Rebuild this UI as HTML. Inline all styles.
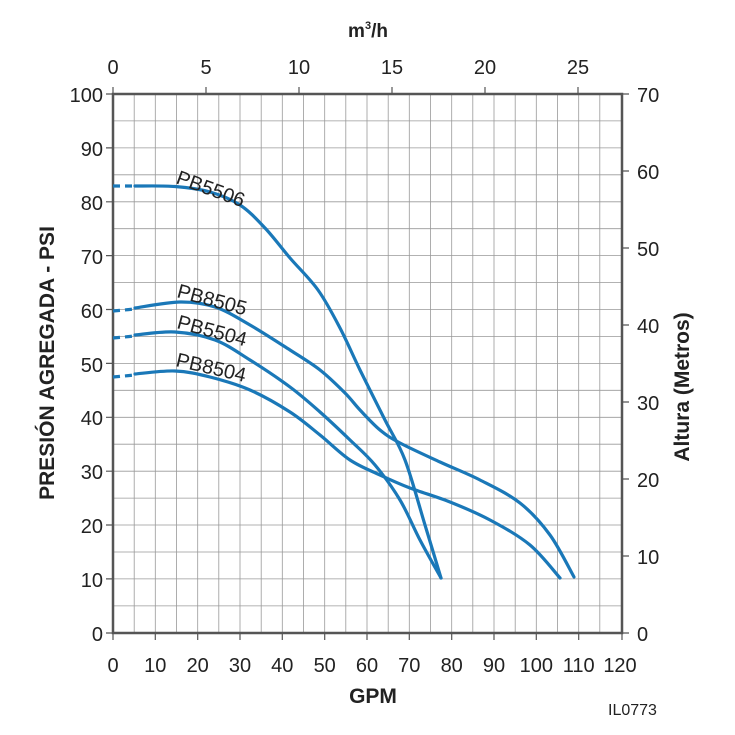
<!DOCTYPE html>
<html><head><meta charset="utf-8"><style>
html,body{margin:0;padding:0;background:#fff;}
svg{display:block;font-family:"Liberation Sans",sans-serif;}
</style></head><body>
<svg width="735" height="735" viewBox="0 0 735 735">
<g stroke="#999" stroke-width="0.8">
<path d="M134.2 94V633M155.3 94V633M176.5 94V633M197.7 94V633M218.8 94V633M240 94V633M261.2 94V633M282.3 94V633M303.5 94V633M324.7 94V633M345.8 94V633M367 94V633M388.2 94V633M409.3 94V633M430.5 94V633M451.7 94V633M472.8 94V633M494 94V633M515.2 94V633M536.3 94V633M557.5 94V633M578.7 94V633M599.8 94V633"/>
<path d="M113 120.9H622M113 147.9H622M113 174.8H622M113 201.8H622M113 228.7H622M113 255.6H622M113 282.6H622M113 309.5H622M113 336.5H622M113 363.4H622M113 390.3H622M113 417.3H622M113 444.2H622M113 471.2H622M113 498.1H622M113 525H622M113 552H622M113 578.9H622M113 605.9H622"/>
</g>
<rect x="113" y="94" width="509" height="539" fill="none" stroke="#555" stroke-width="2.5"/>
<g stroke="#555" stroke-width="1.2">
<path d="M106 94H113M106 147.9H113M106 201.8H113M106 255.6H113M106 309.5H113M106 363.4H113M106 417.3H113M106 471.2H113M106 525H113M106 578.9H113M106 633H113"/>
<path d="M113 633V640M155.3 633V640M197.7 633V640M240 633V640M282.3 633V640M324.7 633V640M367 633V640M409.3 633V640M451.7 633V640M494 633V640M536.3 633V640M578.7 633V640M622 633V640"/>
<path d="M113 87V94M206 87V94M299 87V94M392 87V94M485 87V94M578 87V94"/>
<path d="M622 94H629M622 171H629M622 248H629M622 325H629M622 402H629M622 479H629M622 556H629M622 633H629"/>
</g>
<g font-size="20" fill="#222">
<g text-anchor="end">
<text x="103" y="102">100</text><text x="103" y="156">90</text><text x="103" y="210">80</text><text x="103" y="264">70</text><text x="103" y="318">60</text><text x="103" y="372">50</text><text x="103" y="425">40</text><text x="103" y="479">30</text><text x="103" y="533">20</text><text x="103" y="587">10</text><text x="103" y="641">0</text>
</g>
<g text-anchor="middle">
<text x="113" y="672">0</text><text x="155.3" y="672">10</text><text x="197.7" y="672">20</text><text x="240" y="672">30</text><text x="282.3" y="672">40</text><text x="324.7" y="672">50</text><text x="367" y="672">60</text><text x="409.3" y="672">70</text><text x="451.7" y="672">80</text><text x="494" y="672">90</text><text x="536.3" y="672">100</text><text x="578.7" y="672">110</text><text x="620" y="672">120</text>
<text x="113" y="74">0</text><text x="206" y="74">5</text><text x="299" y="74">10</text><text x="392" y="74">15</text><text x="485" y="74">20</text><text x="578" y="74">25</text>
</g>
<text x="637" y="102">70</text><text x="637" y="179">60</text><text x="637" y="256">50</text><text x="637" y="333">40</text><text x="637" y="410">30</text><text x="637" y="487">20</text><text x="637" y="564">10</text><text x="637" y="641">0</text>
</g>
<text x="373" y="703" font-size="21" font-weight="bold" text-anchor="middle" fill="#222">GPM</text>
<text x="368" y="37" font-size="19" font-weight="bold" text-anchor="middle" fill="#222">m<tspan font-size="11" dy="-8">3</tspan><tspan dy="8">/h</tspan></text>
<text transform="translate(54,363) rotate(-90)" font-size="21" font-weight="bold" text-anchor="middle" fill="#222">PRESIÓN AGREGADA - PSI</text>
<text transform="translate(689,387) rotate(-90)" font-size="21" font-weight="bold" text-anchor="middle" fill="#222">Altura (Metros)</text>
<text x="608" y="715" font-size="16" fill="#222">IL0773</text>
<g fill="none" stroke="#1a78b8" stroke-width="3.2" stroke-linecap="round" stroke-linejoin="round">
<path stroke-dasharray="7,5" stroke-linecap="butt" d="M113 186H135M113 311L135 309M113 338L135 336M113 377L135 375"/>
<path class="c" data-p="135,186 175,186.5 210,192 240,205 265,228 290,258 318,290 340,328 360,370 385,420 405,460 425,525 441,578"/>
<path class="c" data-p="135,308 180,302 215,307 250,325 290,350 320,370 345,393 360,410 380,430 400,443 440,462 480,480 520,503 550,535 574,577"/>
<path class="c" data-p="135,335 175,332 215,340 250,360 290,387 320,412 350,440 375,465 400,500 420,540 441,578"/>
<path class="c" data-p="135,374 175,371 210,377 250,390 290,412 320,435 350,460 380,475 410,488 450,502 490,520 530,545 560,578"/>
</g>
<g font-size="20" fill="#222">
<text transform="translate(175,183) rotate(20)">PB5506</text>
<text transform="translate(176,297) rotate(15)">PB8505</text>
<text transform="translate(176,328) rotate(15)">PB5504</text>
<text transform="translate(175,366) rotate(13)">PB8504</text>
</g>
</svg>
<script>
document.querySelectorAll('path.c').forEach(function(el){
var p=el.getAttribute('data-p').trim().split(/\s+/).map(function(s){return s.split(',').map(Number);});
var d='M'+p[0][0]+' '+p[0][1];
for(var i=0;i<p.length-1;i++){
var p0=p[i-1]||p[i],p1=p[i],p2=p[i+1],p3=p[i+2]||p2;
var c1x=p1[0]+(p2[0]-p0[0])/6,c1y=p1[1]+(p2[1]-p0[1])/6;
var c2x=p2[0]-(p3[0]-p1[0])/6,c2y=p2[1]-(p3[1]-p1[1])/6;
d+=' C'+c1x+' '+c1y+' '+c2x+' '+c2y+' '+p2[0]+' '+p2[1];}
el.setAttribute('d',d);el.removeAttribute('data-p');});
</script>
</body></html>
